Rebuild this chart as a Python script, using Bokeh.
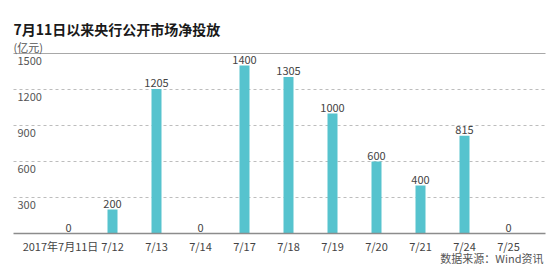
from bokeh.plotting import figure
from bokeh.models import Range1d, ColumnDataSource
from bokeh.core.properties import value
from bokeh.embed import file_html
from bokeh.resources import INLINE

# ---- data ----
categories = ["2017年7月11日", "7/12", "7/13", "7/14", "7/17", "7/18",
              "7/19", "7/20", "7/21", "7/24", "7/25"]
net_injection = [0, 200, 1205, 0, 1400, 1305, 1000, 600, 400, 815, 0]
grid_ticks = [300, 600, 900, 1200]
top_tick = 1500
y_tick_labels = ["300", "600", "900", "1200", "1500"]
title_text = "7月11日以来央行公开市场净投放"
unit_text = "(亿元)"
source_text = "数据来源：Wind资讯"

# ---- layout (pixel geometry of the canvas) ----
W, H = 550, 272
X0_PX, DX_PX = 68, 44          # first category centre, category spacing
BASE_PX, TOP_PX = 233, 53      # pixel rows of value 0 and value 1500
SCALE = (BASE_PX - TOP_PX) / top_tick
LEFT_PX, RIGHT_PX = 13, 545

def px2x(px):
    return (px - X0_PX) / DX_PX

def px2y(py):
    return (BASE_PX - py) / SCALE

FONT = value("Noto Sans CJK SC")
BAR = "#56C3CE"

p = figure(width=W, height=H, output_backend="svg", toolbar_location=None,
           x_range=Range1d(px2x(0), px2x(W)), y_range=Range1d(px2y(H), px2y(0)),
           min_border=0)
p.axis.visible = False
p.grid.visible = False
p.outline_line_color = None
p.background_fill_color = "white"

idx = list(range(len(categories)))

# dashed gridlines
p.segment(x0=[px2x(LEFT_PX)] * len(grid_ticks), x1=[px2x(RIGHT_PX)] * len(grid_ticks),
          y0=grid_ticks, y1=grid_ticks, line_color="#BDBDBD", line_dash="3 3", line_width=1)
# top solid line
p.segment(x0=[px2x(LEFT_PX)], x1=[px2x(RIGHT_PX)], y0=[top_tick], y1=[top_tick],
          line_color="#A8A8A8", line_width=1)

# bars
src = ColumnDataSource(dict(x=idx, top=net_injection,
                            lbl=[str(v) for v in net_injection]))
p.vbar(x="x", top="top", width=10 / DX_PX, source=src, fill_color=BAR, line_color=None)

# baseline
p.segment(x0=[px2x(LEFT_PX)], x1=[px2x(RIGHT_PX)], y0=[0], y1=[0],
          line_color="#8C8C8C", line_width=1.5)

# value labels
p.text(x="x", y="top", text="lbl", source=src, text_align="center",
       text_baseline="bottom", y_offset=-2, text_font=FONT,
       text_font_size="11px", text_color="#444444")

# y tick labels
p.text(x=[px2x(17)] * len(y_tick_labels), y=grid_ticks + [top_tick], text=y_tick_labels,
       text_align="left", text_baseline="top", y_offset=3, text_font=FONT,
       text_font_size="11px", text_color="#555555")

# category labels
cat_src = ColumnDataSource(dict(x=idx, y=[0] * len(idx), t=categories,
                                xo=[-8] + [0] * (len(idx) - 1)))
p.text(x="x", y="y", text="t", source=cat_src, x_offset="xo", text_align="center",
       text_baseline="top", y_offset=4, text_font=FONT,
       text_font_size="11px", text_color="#444444")

# title, unit, source
p.text(x=[px2x(LEFT_PX)], y=[px2y(28)], text=[title_text], text_align="left",
       text_baseline="middle", text_font=FONT, text_font_size="14px",
       text_font_style="bold", text_color="#1A1A1A")
p.text(x=[px2x(LEFT_PX)], y=[px2y(46)], text=[unit_text], text_align="left",
       text_baseline="middle", text_font=FONT, text_font_size="11px",
       text_color="#555555")
p.text(x=[px2x(543)], y=[px2y(257)], text=[source_text], text_align="right",
       text_baseline="middle", text_font=FONT, text_font_size="11px",
       text_color="#555555")

open("out.html", "w").write(file_html(p, INLINE))
